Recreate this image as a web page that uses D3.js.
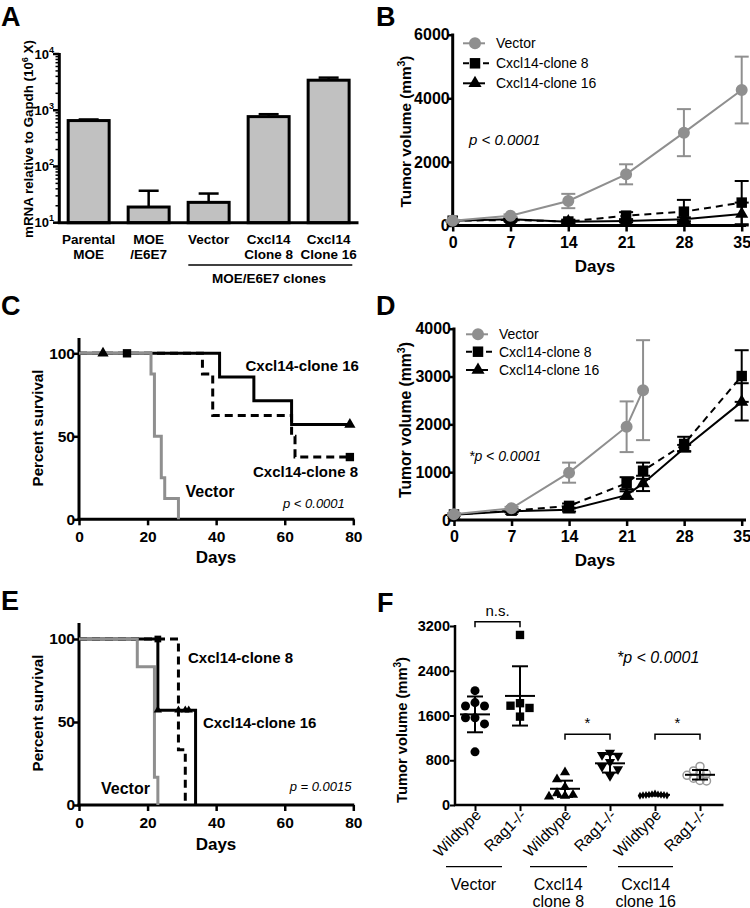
<!DOCTYPE html>
<html><head><meta charset="utf-8">
<script src="https://cdn.jsdelivr.net/npm/d3@7"></script>
<style>body{margin:0;background:#fff}svg{display:block}</style>
</head><body>
<svg id="chart" width="750" height="908"></svg>
<script>
// ================= DATA =================
// Panel A (log bar chart)
const aCategories = [["Parental","MOE"],["MOE","/E6E7"],["Vector"],["Cxcl14","Clone 8"],["Cxcl14","Clone 16"]];
const aMeans = [655, 19, 23, 770, 3420];
const aErrTop = [685, 37, 33, 850, 3800];
const aTickExponents = [1, 2, 3, 4];

// Panel B (tumor growth)
const bDays = [0, 7, 14, 21, 28, 35];
const bVector = [150, 310, 770, 1610, 2920, 4260];
const bVectorSD = [25, 40, 225, 315, 740, 1050];
const bClone8 = [150, 175, 125, 310, 435, 720];
const bClone8SD = [20, 40, 60, 110, 370, 680];
const bClone16 = [150, 195, 120, 140, 195, 360];
const bClone16SD = [15, 30, 40, 40, 60, 360];
const bYTicks = [0, 2000, 4000, 6000];

// Panel C (survival)
const cVectorT = [0, 21, 22, 24, 25, 29];
const cVectorS = [100, 87.5, 50, 25, 12.5, 0];
const cClone8T = [0, 36, 39, 62, 63, 79];
const cClone8S = [100, 87.5, 62.5, 50, 37.5, 37.5];
const cClone16T = [0, 41, 51, 62, 79];
const cClone16S = [100, 85.7, 71.4, 57.1, 57.1];
const cCens8T = [14, 79], cCens8S = [100, 37.5];
const cCens16T = [7, 79], cCens16S = [100, 57.1];

// Panel D (tumor growth)
const dVectorDays = [0, 7, 14, 21, 23];
const dVector = [120, 245, 990, 1950, 2715];
const dVectorSD = [20, 30, 210, 530, 1045];
const dDays = [0, 7, 14, 21, 23, 28, 35];
const dClone8 = [115, 195, 295, 770, 1030, 1590, 3010];
const dClone8SD = [15, 30, 50, 125, 170, 150, 540];
const dClone16 = [110, 185, 215, 520, 765, 1500, 2470];
const dClone16SD = [15, 25, 40, 80, 160, 70, 390];
const dYTicks = [0, 1000, 2000, 3000, 4000];

// Panel E (survival)
const eVectorT = [0, 17, 22, 23];
const eVectorS = [100, 83.3, 16.7, 0];
const eClone8T = [0, 29, 31];
const eClone8S = [100, 33.3, 0];
const eClone16T = [0, 23, 34];
const eClone16S = [100, 57.1, 0];
const eCens8T = [23], eCens8S = [100];
const eCens16T = [23, 29, 31, 32], eCens16S = [57.1, 57.1, 57.1, 57.1];

const survXTicks = [0, 20, 40, 60, 80];
const survYTicks = [0, 50, 100];

// Panel F (scatter)
const fCategories = ["Wildtype", "Rag1-/-", "Wildtype", "Rag1-/-", "Wildtype", "Rag1-/-"];
const fGroups = [["Vector"], ["Cxcl14", "clone 8"], ["Cxcl14", "clone 16"]];
const fVectorWT = [2044, 1830, 1770, 1770, 1560, 1560, 1450, 950];
const fVectorRag = [3040, 1820, 1775, 1735, 1580];
const fClone8WT = [585, 460, 320, 210, 180, 165, 150];
const fClone8Rag = [935, 895, 880, 770, 685, 640, 520];
const fClone16WT = [205, 195, 190, 185, 182, 180, 178, 175, 170, 165];
const fClone16Rag = [690, 610, 570, 560, 530, 480, 440, 430];
const fMeans = [1620, 1950, 290, 745, 182, 540];
const fSDs = [320, 530, 145, 165, 15, 85];
const fYTicks = [0, 800, 1600, 2400, 3200];

// ================= DRAWING =================
const FONT = "'Liberation Sans', Arial, Helvetica, sans-serif";
const GRAY = "#8f8f8f";
const svg = d3.select("#chart").attr("font-family", FONT);
const fmt = d3.format("d");

function text(g, x, y, s, o = {}) {
  const t = g.append("text").attr("x", x).attr("y", y).text(s)
    .attr("font-size", o.size || 15)
    .attr("font-weight", o.bold === false ? "normal" : "bold")
    .attr("text-anchor", o.anchor || "start")
    .attr("fill", o.fill || "#000");
  if (o.italic) t.attr("font-style", "italic");
  if (o.rotate != null) t.attr("transform", `rotate(${o.rotate},${x},${y})`);
  return t;
}
function hline(g, x1, x2, y, w, c) {
  return g.append("line").attr("x1", x1).attr("x2", x2).attr("y1", y).attr("y2", y).attr("stroke", c || "#000").attr("stroke-width", w);
}
function vline(g, x, y1, y2, w, c) {
  return g.append("line").attr("x1", x).attr("x2", x).attr("y1", y1).attr("y2", y2).attr("stroke", c || "#000").attr("stroke-width", w);
}
// rotated axis title, font size fitted so that the whole title spans `len` px
function yTitle(g, x, y, main, sup, tail, size, len) {
  const t = g.append("text").attr("transform", `translate(${x},${y}) rotate(-90)`)
    .attr("text-anchor", "middle").attr("font-size", size).attr("font-weight", "bold");
  t.append("tspan").text(main);
  if (sup) {
    t.append("tspan").text(sup).attr("font-size", size * 0.68).attr("dy", -size * 0.4);
    t.append("tspan").text(tail).attr("dy", size * 0.4);
  }
  if (len) {
    const w = t.node().getComputedTextLength();
    if (w > 0) {
      const k = len / w;
      const ns = size * k;
      t.attr("font-size", ns);
      if (sup) {
        const sp = t.selectAll("tspan").nodes();
        d3.select(sp[1]).attr("font-size", ns * 0.68).attr("dy", -ns * 0.4);
        d3.select(sp[2]).attr("dy", ns * 0.4);
      }
    }
  }
}
function styleAxis(sel, fs, w) {
  sel.attr("font-family", FONT).attr("font-size", fs);
  sel.select(".domain").remove();
  sel.selectAll(".tick line").attr("stroke", "#000").attr("stroke-width", w);
  sel.selectAll(".tick text").attr("font-weight", "bold").attr("fill", "#000");
}
function letter(t, x, y) { text(svg, x, y, t, { size: 27 }); }

letter("A", 1, 25.5); letter("B", 376, 25.5);
letter("C", 1, 315); letter("D", 376, 315);
letter("E", 1, 610); letter("F", 377, 612);

// ---------- Panel A ----------
{
  const g = svg.append("g");
  const x = d3.scaleBand().domain(aCategories.map((d, i) => i)).range([59.3, 358]).paddingInner(0.317).paddingOuter(0.148);
  const y = d3.scaleLog().domain([10, 10000]).range([222.7, 54]);
  g.selectAll("rect.bar").data(aMeans).join("rect").attr("class", "bar")
    .attr("x", (d, i) => x(i)).attr("width", x.bandwidth())
    .attr("y", d => y(d)).attr("height", d => y(10) - y(d))
    .attr("fill", "#c1c1c1").attr("stroke", "#000").attr("stroke-width", 3);
  aMeans.forEach((m, i) => {
    const cx = x(i) + x.bandwidth() / 2;
    vline(g, cx, y(m), y(aErrTop[i]), 2.5);
    hline(g, cx - 10, cx + 10, y(aErrTop[i]), 2.5);
  });
  aTickExponents.forEach(k => {
    const v = Math.pow(10, k);
    hline(g, 53, 59.3, y(v), 2.5);
    const t = g.append("text").attr("x", 54).attr("y", y(v) + 4.5).attr("text-anchor", "end")
      .attr("font-size", 13).attr("font-weight", "bold");
    t.append("tspan").text("10");
    t.append("tspan").text(k).attr("font-size", 9).attr("dy", -6);
    if (k < 4) for (let m = 2; m <= 9; m++) hline(g, 55.5, 59.3, y(m * v), 1.5);
  });
  vline(g, 59.3, 224, 53, 3);
  hline(g, 57.8, 358.5, 222.7, 3);
  aCategories.forEach((lines, i) => {
    const cx = x(i) + x.bandwidth() / 2;
    lines.forEach((l, j) => text(g, cx, 243.5 + j * 15.5, l, { size: 13.5, anchor: "middle" }));
  });
  hline(g, 188.3, 352.3, 265, 1.3);
  text(g, 269, 282.5, "MOE/E6E7 clones", { size: 13.5, anchor: "middle" });
  yTitle(g, 33, 139, "mRNA relative to Gapdh (10", "6", " X)", 13.5, 198);
}

// ---------- growth helpers ----------
function growth(g, xs, ys, days, vals, sds, o) {
  const pts = days.map((d, i) => [xs(d), ys(vals[i])]);
  g.append("path").attr("d", d3.line()(pts)).attr("fill", "none")
    .attr("stroke", o.color).attr("stroke-width", o.lw).attr("stroke-dasharray", o.dash || null);
  days.forEach((d, i) => {
    const xx = xs(d), yt = ys(vals[i] + sds[i]), yb = ys(Math.max(0, vals[i] - sds[i]));
    vline(g, xx, yt, yb, 2, o.color);
    hline(g, xx - o.cap, xx + o.cap, yt, 2, o.color);
    hline(g, xx - o.cap, xx + o.cap, yb, 2, o.color);
  });
  g.selectAll(null).data(pts).join("path")
    .attr("transform", p => `translate(${p[0]},${p[1]})`)
    .attr("d", d3.symbol(o.symbol, o.size)()).attr("fill", o.color);
}
function legend(g, x0, rows, items) {
  items.forEach((it, i) => {
    const yy = rows[i];
    g.append("line").attr("x1", x0).attr("x2", x0 + (it.dash ? 27 : 22)).attr("y1", yy).attr("y2", yy)
      .attr("stroke", it.color).attr("stroke-width", 2).attr("stroke-dasharray", it.dash || null);
    g.append("path").attr("transform", `translate(${x0 + 12},${yy})`).attr("d", d3.symbol(it.symbol, it.size)()).attr("fill", it.color);
    text(g, x0 + 33, yy + 5, it.label, { size: 14, bold: false });
  });
}
const legendItems = [
  { label: "Vector", color: GRAY, symbol: d3.symbolCircle, size: 113 },
  { label: "Cxcl14-clone 8", color: "#000", symbol: d3.symbolSquare, size: 110, dash: "6,4" },
  { label: "Cxcl14-clone 16", color: "#000", symbol: d3.symbolTriangle, size: 75 }
];

// ---------- Panel B ----------
{
  const g = svg.append("g");
  const x = d3.scaleLinear().domain([0, 35]).range([452.7, 741.7]);
  const y = d3.scaleLinear().domain([0, 6000]).range([225.5, 34.7]);
  g.append("g").attr("transform", "translate(0,225.5)")
    .call(d3.axisBottom(x).tickValues(bDays).tickFormat(fmt).tickSize(6).tickPadding(5)).call(styleAxis, 16, 2.5);
  g.append("g").attr("transform", "translate(452.7,0)")
    .call(d3.axisLeft(y).tickValues(bYTicks).tickFormat(fmt).tickSize(5).tickPadding(-2)).call(styleAxis, 16, 2.5);
  vline(g, 452.7, 227, 33.5, 3);
  hline(g, 451, 746, 225.5, 3);
  growth(g, x, y, bDays, bClone16, bClone16SD, { color: "#000", lw: 2, symbol: d3.symbolTriangle, size: 75, cap: 7 });
  growth(g, x, y, bDays, bClone8, bClone8SD, { color: "#000", lw: 2, dash: "7,5", symbol: d3.symbolSquare, size: 110, cap: 7 });
  growth(g, x, y, bDays, bVector, bVectorSD, { color: GRAY, lw: 2, symbol: d3.symbolCircle, size: 113, cap: 7 });
  legend(g, 463, [43.3, 63.3, 83.3], legendItems);
  text(g, 469, 145, "p < 0.0001", { size: 15, bold: false, italic: true });
  text(g, 595, 272, "Days", { size: 17, anchor: "middle" });
  yTitle(g, 411, 131.5, "Tumor volume (mm", "3", ")", 15, 152);
}

// ---------- survival helpers ----------
function survival(g, xs, ys, T, S, o) {
  const pts = T.map((t, i) => [xs(t), ys(S[i])]);
  g.append("path").attr("d", d3.line().curve(d3.curveStepAfter)(pts)).attr("fill", "none")
    .attr("stroke", o.color).attr("stroke-width", 3).attr("stroke-dasharray", o.dash || null);
}
function censor(g, xs, ys, T, S, symbol, size) {
  g.selectAll(null).data(T).join("path")
    .attr("transform", (t, i) => `translate(${xs(t)},${ys(S[i])})`)
    .attr("d", d3.symbol(symbol, size)()).attr("fill", "#000");
}
function survAxes(g, x, y, y0, yTop) {
  g.append("g").attr("transform", `translate(0,${y0})`)
    .call(d3.axisBottom(x).tickValues(survXTicks).tickSize(6).tickPadding(5.5)).call(styleAxis, 15.5, 2.5);
  g.append("g").attr("transform", `translate(${x(0)},0)`)
    .call(d3.axisLeft(y).tickValues(survYTicks).tickSize(5).tickPadding(-1)).call(styleAxis, 15.5, 2.5);
  vline(g, x(0), y0 + 1.5, yTop, 3);
  hline(g, x(0) - 1.5, x(80) + 1, y0, 3);
}

// ---------- Panel C ----------
{
  const g = svg.append("g");
  const x = d3.scaleLinear().domain([0, 80]).range([79, 353.3]);
  const y = d3.scaleLinear().domain([0, 100]).range([519.3, 353.3]);
  survAxes(g, x, y, 519.3, 338);
  survival(g, x, y, cClone8T, cClone8S, { color: "#000", dash: "8,5" });
  survival(g, x, y, cClone16T, cClone16S, { color: "#000" });
  survival(g, x, y, cVectorT, cVectorS, { color: GRAY });
  censor(g, x, y, cCens16T, cCens16S, d3.symbolTriangle, 55);
  censor(g, x, y, cCens8T, cCens8S, d3.symbolSquare, 70);
  text(g, 245.5, 371, "Cxcl14-clone 16", { size: 15 });
  text(g, 253, 477, "Cxcl14-clone 8", { size: 15 });
  text(g, 185.5, 497, "Vector", { size: 16 });
  text(g, 283, 508, "p < 0.0001", { size: 13, bold: false, italic: true });
  text(g, 216, 563, "Days", { size: 17, anchor: "middle" });
  yTitle(g, 43, 428, "Percent survival", null, null, 15, 117);
}

// ---------- Panel D ----------
{
  const g = svg.append("g");
  const x = d3.scaleLinear().domain([0, 35]).range([454, 741.7]);
  const y = d3.scaleLinear().domain([0, 4000]).range([520, 328.7]);
  g.append("g").attr("transform", "translate(0,520)")
    .call(d3.axisBottom(x).tickValues(dDays.filter(d => d !== 23)).tickFormat(fmt).tickSize(6).tickPadding(5)).call(styleAxis, 16, 2.5);
  g.append("g").attr("transform", "translate(454,0)")
    .call(d3.axisLeft(y).tickValues(dYTicks).tickFormat(fmt).tickSize(5).tickPadding(-2)).call(styleAxis, 16, 2.5);
  vline(g, 454, 521.5, 327.5, 3);
  hline(g, 452.5, 746, 520, 3);
  growth(g, x, y, dDays, dClone16, dClone16SD, { color: "#000", lw: 2, symbol: d3.symbolTriangle, size: 75, cap: 7 });
  growth(g, x, y, dDays, dClone8, dClone8SD, { color: "#000", lw: 2, dash: "7,5", symbol: d3.symbolSquare, size: 110, cap: 7 });
  growth(g, x, y, dVectorDays, dVector, dVectorSD, { color: GRAY, lw: 2, symbol: d3.symbolCircle, size: 113, cap: 7 });
  legend(g, 466, [334.3, 351.7, 370], legendItems);
  text(g, 469, 461, "*p < 0.0001", { size: 14, bold: false, italic: true });
  text(g, 595, 566, "Days", { size: 17, anchor: "middle" });
  yTitle(g, 411, 420, "Tumor volume (mm", "3", ")", 15, 156);
}

// ---------- Panel E ----------
{
  const g = svg.append("g");
  const x = d3.scaleLinear().domain([0, 80]).range([79, 353.3]);
  const y = d3.scaleLinear().domain([0, 100]).range([805, 639]);
  survAxes(g, x, y, 805, 623);
  survival(g, x, y, eClone8T, eClone8S, { color: "#000", dash: "8,5" });
  survival(g, x, y, eClone16T, eClone16S, { color: "#000" });
  survival(g, x, y, eVectorT, eVectorS, { color: GRAY });
  censor(g, x, y, eCens16T, eCens16S, d3.symbolTriangle, 30);
  censor(g, x, y, eCens8T, eCens8S, d3.symbolSquare, 45);
  text(g, 188, 662.5, "Cxcl14-clone 8", { size: 15 });
  text(g, 203, 727.5, "Cxcl14-clone 16", { size: 15 });
  text(g, 101, 794, "Vector", { size: 16 });
  text(g, 351.5, 791, "p = 0.0015", { size: 13, bold: false, italic: true, anchor: "end" });
  text(g, 216, 850, "Days", { size: 17, anchor: "middle" });
  yTitle(g, 43, 713, "Percent survival", null, null, 15, 117);
}

// ---------- Panel F ----------
function swarm(values, cx, ys, step, r) {
  const placed = [], out = new Array(values.length);
  values.map((v, i) => ({ v, i })).sort((a, b) => b.v - a.v).forEach(p => {
    const yy = ys(p.v);
    for (let k = 0; k < 60; k++) {
      const off = k === 0 ? 0 : (k % 2 ? -1 : 1) * Math.ceil(k / 2) * step;
      const xx = cx + off;
      if (placed.every(q => Math.hypot(q.x - xx, q.y - yy) >= 2 * r)) { placed.push({ x: xx, y: yy }); out[p.i] = { x: xx, y: yy }; break; }
    }
  });
  return out;
}
{
  const g = svg.append("g");
  const x = d3.scalePoint().domain(d3.range(6)).range([475, 700]);
  const y = d3.scaleLinear().domain([0, 3200]).range([805, 626]);
  g.append("g").attr("transform", "translate(455,0)")
    .call(d3.axisLeft(y).tickValues(fYTicks).tickFormat(fmt).tickSize(5).tickPadding(0)).call(styleAxis, 14.5, 2);
  g.append("g").attr("transform", "translate(0,805)")
    .call(d3.axisBottom(x).tickSize(6).tickFormat("")).call(styleAxis, 14.5, 2);
  vline(g, 455, 806, 625, 2.5);
  hline(g, 454, 723.5, 805, 2.5);

  const sets = [
    { v: fVectorWT, sym: d3.symbolCircle, size: 64, r: 4.5, step: 9.5 },
    { v: fVectorRag, sym: d3.symbolSquare, size: 70, r: 4.5, step: 9.5 },
    { v: fClone8WT, sym: d3.symbolTriangle, size: 45, r: 4, step: 8 },
    { v: fClone8Rag, sym: d3.symbolTriangle, size: 45, r: 4, step: 8, flip: true },
    { v: fClone16WT, sym: d3.symbolDiamond, size: 18, r: 1.3, step: 3 },
    { v: fClone16Rag, sym: d3.symbolCircle, size: 50, r: 3.2, step: 6.5, open: true }
  ];
  sets.forEach((s, i) => {
    const cx = x(i);
    const pos = swarm(s.v, cx, y, s.step, s.r);
    g.selectAll(null).data(pos).join("path")
      .attr("transform", p => `translate(${p.x},${p.y})${s.flip ? " rotate(180)" : ""}`)
      .attr("d", d3.symbol(s.sym, s.size)())
      .attr("fill", s.open ? "none" : "#000")
      .attr("stroke", s.open ? "#9a9a9a" : "none").attr("stroke-width", 1.5);
    const m = fMeans[i], sd = fSDs[i];
    hline(g, cx - 15, cx + 15, y(m), 2);
    vline(g, cx, y(m + sd), y(m - sd), 2);
    hline(g, cx - 8, cx + 8, y(m + sd), 2);
    hline(g, cx - 8, cx + 8, y(m - sd), 2);
    text(g, cx + 7, 816, fCategories[i], { size: 15.5, bold: false, anchor: "end", rotate: -45 });
  });
  const gl = [[446, 502], [530, 587], [618, 673]];
  const gc = [473.5, 558.3, 645.7];
  fGroups.forEach((lines, i) => {
    hline(g, gl[i][0], gl[i][1], 866.7, 1.3);
    lines.forEach((l, j) => text(g, gc[i], 890 + j * 16.5, l, { size: 16, bold: false, anchor: "middle" }));
  });
  function bracket(i, j, yy, label) {
    const x1 = x(i), x2 = x(j);
    g.append("path").attr("d", `M${x1},${yy + 5.5}V${yy}H${x2}V${yy + 5.5}`).attr("fill", "none").attr("stroke", "#000").attr("stroke-width", 1.5);
    text(g, (x1 + x2) / 2, yy - 6, label, { size: 15, bold: false, anchor: "middle" });
  }
  bracket(0, 1, 621.7, "n.s.");
  bracket(2, 3, 734.3, "*");
  bracket(4, 5, 734.3, "*");
  text(g, 617, 663, "*p < 0.0001", { size: 16, bold: false, italic: true });
  yTitle(g, 407, 730, "Tumor volume (mm", "3", ")", 14.5, 146);
}
</script>
</body></html>
